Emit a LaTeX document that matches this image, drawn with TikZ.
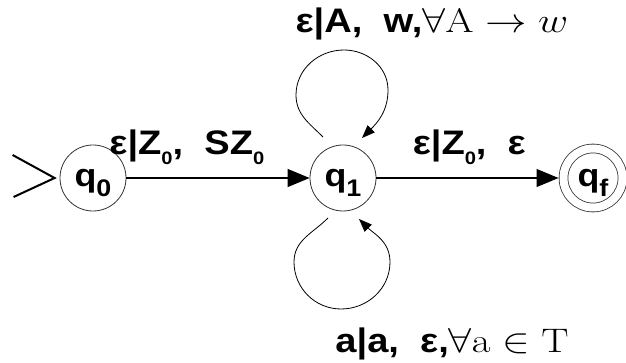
\documentclass[tikz,border=0pt]{standalone}
\usepackage{amsmath,amssymb}
\usepackage{graphicx}
\usepackage{fontspec}
\usepackage{tikz}
\usetikzlibrary{automata, positioning, arrows.meta}
\newfontfamily\statefont[FakeStretch=1.12]{Liberation Sans}
\newcommand{\lowsub}[1]{\raisebox{-5pt}{\fontsize{9}{9}\selectfont #1}}
\newcommand{\qsub}[1]{\raisebox{-5pt}{\fontsize{12}{12}\selectfont #1}}
\newcommand{\mathpart}[1]{\scalebox{1.2}[1]{$#1$}}

\begin{document}
\begin{tikzpicture}[x=0.5pt, y=-0.5pt, >={Triangle[length=11pt, width=9pt]}, semithick,
            node distance=125pt,
            every state/.style={draw=black!80, thin, minimum size=33pt, inner sep=0pt,
                text height=13pt, text depth=4pt,
                font=\statefont\bfseries\fontsize{16}{18}\selectfont},
            accepting/.style={double, double distance=4pt, minimum size=29.5pt, outer sep=2.5pt},
            lbl/.style={font=\statefont\bfseries\fontsize{17}{20}\selectfont, anchor=base, inner sep=0pt},
            selfloop/.style={thin, -{Triangle[length=6.5pt, width=5pt]}}]

        \useasboundingbox (0,0) rectangle (626,363);

        % --- States ---
        \node[state]            (q0) at (93,178) {q\qsub{0}};
        \node[state]            (q1) [right of=q0] {q\qsub{1}};
        \node[state, accepting] (qf) [right of=q1] {q\qsub{f}};

        % --- Start marker ---
        \coordinate (st) at ([xshift=-2.5pt]q0.west);
        \draw[line width=1pt] ([shift={(-42,-23)}]st) -- (st) -- ([shift={(-41,19)}]st);

        % --- Transitions ---
        \path[->] (q0) edge node[lbl, pos=0.33, shift={(0,-23)}] {ε|Z\lowsub{0}, \ SZ\lowsub{0}} (q1)
                  (q1) edge node[lbl, pos=0.51, shift={(0,-23)}] {ε|Z\lowsub{0}, \ ε} (qf);

        % --- Self loops on q1 ---
        \draw[selfloop] ([shift={(-20,-41)}]q1.center) to[out=135, in=270] ([shift={(-47,-83)}]q1.center)
            to[out=90, in=180] ([shift={(1,-128)}]q1.center)
            node[lbl, shift={(88,-17)}] {ε|A, \ w,\mathpart{\forall\mathrm{A}\to w}}
            to[out=0, in=90] ([shift={(45,-88)}]q1.center)
            to[out=270, in=45] ([shift={(19,-40)}]q1.center);
        \draw[selfloop] ([shift={(-15,40)}]q1.center) to[out=225, in=90] ([shift={(-49,84)}]q1.center)
            to[out=270, in=180] ([shift={(-2,131)}]q1.center)
            node[lbl, shift={(111,43)}] {a|a, \ ε,\mathpart{\forall\mathrm{a}\in\mathrm{T}}}
            to[out=0, in=270] ([shift={(47,84)}]q1.center)
            to[out=90, in=315] ([shift={(16,41)}]q1.center);

    \end{tikzpicture}
\end{document}
